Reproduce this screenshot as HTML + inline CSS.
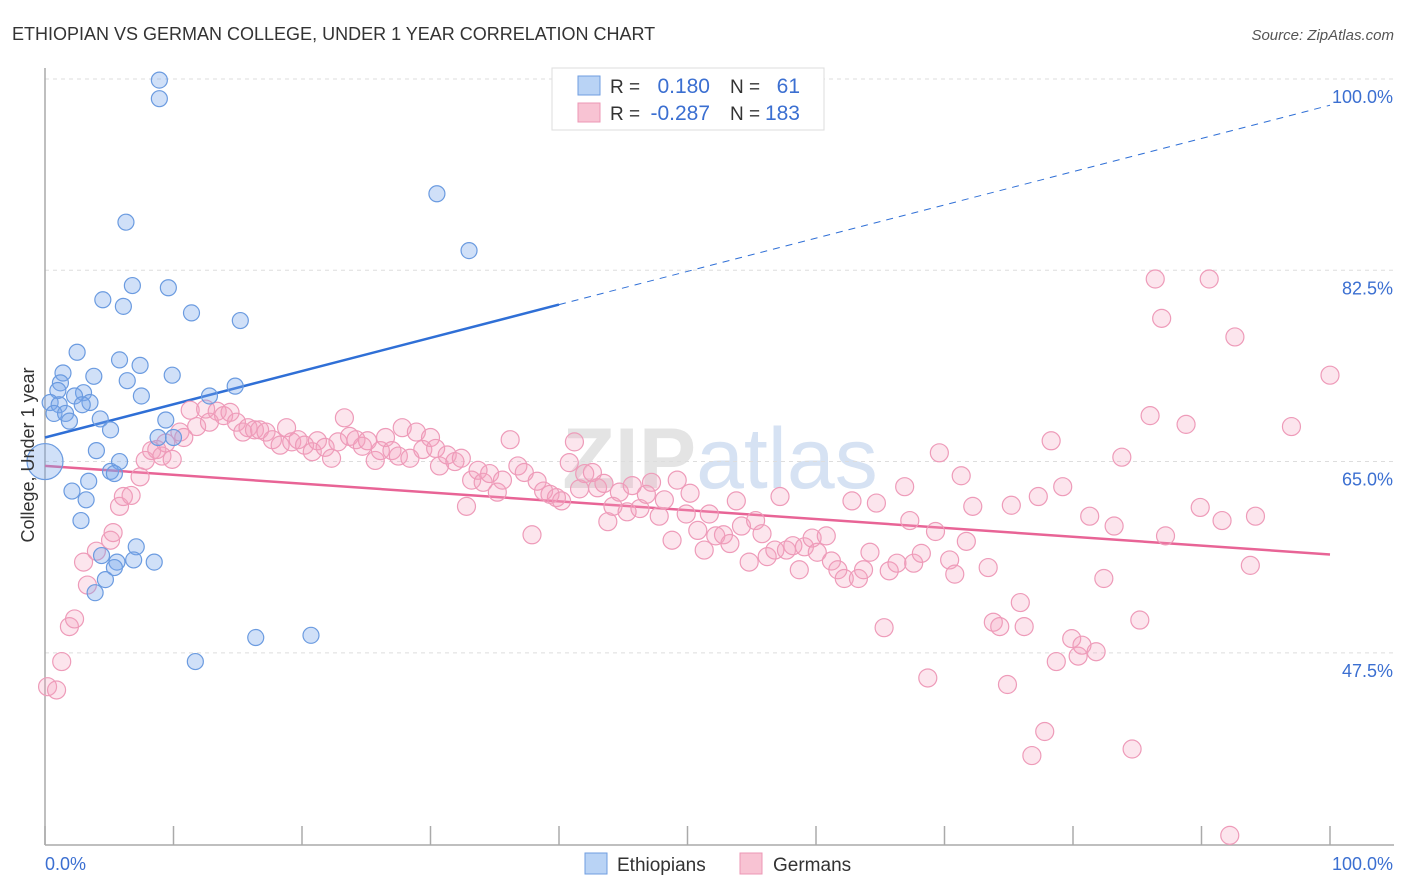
<!DOCTYPE html>
<html><head><meta charset="utf-8"><style>
body{margin:0;background:#fff;font-family:"Liberation Sans",sans-serif;}
svg{display:block}
</style></head><body>
<svg id="chart" width="1406" height="892">
<text x="12" y="40" font-size="18" fill="#333">ETHIOPIAN VS GERMAN COLLEGE, UNDER 1 YEAR CORRELATION CHART</text>
<text x="1394" y="40" font-size="15" fill="#555" font-style="italic" text-anchor="end">Source: ZipAtlas.com</text>
<text x="720" y="488" font-size="86" fill="#e4e4e4" text-anchor="middle" font-weight="bold">ZIP<tspan fill="#d6e2f3" font-weight="normal">atlas</tspan></text>
<g id="grid"></g>
<g id="axes"></g>
<g id="trend"></g>
<g id="pts"></g>
<text transform="translate(34,455) rotate(-90)" font-size="18" fill="#333" text-anchor="middle">College, Under 1 year</text>
<g>
<rect x="552" y="68" width="272" height="62" fill="#fff" stroke="#ddd"/>
<rect x="578" y="76" width="22" height="19" fill="#b9d3f5" stroke="#6f9ee0"/>
<rect x="578" y="103" width="22" height="19" fill="#f8c3d3" stroke="#ec97b4"/>
<text x="610" y="93" font-size="19" fill="#333">R =</text>
<text x="710" y="93" font-size="21" fill="#3b6fd1" text-anchor="end">0.180</text>
<text x="730" y="93" font-size="19" fill="#333">N =</text>
<text x="800" y="93" font-size="21" fill="#3b6fd1" text-anchor="end">61</text>
<text x="610" y="120" font-size="19" fill="#333">R =</text>
<text x="710" y="120" font-size="21" fill="#3b6fd1" text-anchor="end">-0.287</text>
<text x="730" y="120" font-size="19" fill="#333">N =</text>
<text x="800" y="120" font-size="21" fill="#3b6fd1" text-anchor="end">183</text>
</g>
<g>
<rect x="585" y="853" width="22" height="21" fill="#b9d3f5" stroke="#6f9ee0"/>
<text x="617" y="871" font-size="19" fill="#333">Ethiopians</text>
</g>
<g>
<rect x="740" y="853" width="22" height="21" fill="#f8c3d3" stroke="#ec97b4"/>
<text x="773" y="871" font-size="19" fill="#333">Germans</text>
</g>
</svg>
<script>
const yTicks=[100,82.5,65,47.5];
const yTickLabels=["100.0%","82.5%","65.0%","47.5%"];
const xTicks=[0,10,20,30,40,50,60,70,80,90,100];
const xEndLabels=["0.0%","100.0%"];
const ethX=[8.9,8.9,30.5,6.3,33.0,4.5,6.8,9.6,6.1,11.4,15.2,2.5,5.8,7.4,1.4,3.8,9.9,6.4,1.2,3.0,1.0,12.8,14.8,7.5,0.4,2.3,3.5,1.1,2.9,0.7,1.6,1.9,4.3,9.4,5.1,8.8,10.0,4.0,5.8,5.1,5.4,3.4,2.1,3.2,2.8,4.4,7.1,5.6,6.9,8.5,5.4,4.7,3.9,16.4,20.7,11.7];
const ethY=[99.9,98.2,89.5,86.9,84.3,79.8,81.1,80.9,79.2,78.6,77.9,75.0,74.3,73.8,73.1,72.8,72.9,72.4,72.2,71.3,71.5,71.0,71.9,71.0,70.4,71.0,70.4,70.2,70.2,69.4,69.4,68.7,68.9,68.8,67.9,67.2,67.2,66.0,65.0,64.1,63.9,63.2,62.3,61.5,59.6,56.4,57.2,55.8,56.0,55.8,55.3,54.2,53.0,48.9,49.1,46.7];
const gerX=[0.2,0.9,1.3,1.9,2.3,3.0,3.3,4.0,5.1,5.3,5.8,6.1,6.7,7.4,7.8,8.3,8.7,9.1,9.4,9.9,10.5,10.8,11.3,11.8,12.5,12.8,13.4,13.9,14.4,14.9,15.4,15.8,16.3,16.7,17.2,17.7,18.3,18.8,19.2,19.7,20.2,20.8,21.2,21.8,22.3,22.8,23.3,23.7,24.2,24.7,25.1,25.7,26.1,26.5,27.0,27.5,27.8,28.4,28.9,29.4,30.0,30.4,30.7,31.3,31.9,32.4,32.8,33.2,33.7,34.1,34.6,35.2,35.6,36.2,36.8,37.3,37.9,38.3,38.8,39.3,39.8,40.2,40.8,41.2,41.6,42.0,42.6,43.0,43.5,43.8,44.2,44.7,45.3,45.7,46.3,46.8,47.2,47.8,48.2,48.8,49.2,49.9,50.2,50.8,51.3,51.7,52.2,52.8,53.3,53.8,54.2,54.8,55.3,55.8,56.2,56.8,57.2,57.7,58.2,58.7,59.1,59.7,60.1,60.8,61.2,61.7,62.2,62.8,63.3,63.7,64.2,64.7,65.3,65.7,66.3,66.9,67.3,67.6,68.2,68.7,69.3,69.6,70.4,70.8,71.3,71.7,72.2,73.4,73.8,74.3,74.9,75.2,75.9,76.2,76.8,77.3,77.8,78.3,78.7,79.2,79.9,80.4,80.7,81.3,81.8,82.4,83.2,83.8,84.6,85.2,86.0,86.4,86.9,87.2,88.8,89.9,90.6,91.6,92.2,92.6,93.8,94.2,97.0,100.0];
const gerY=[44.4,44.1,46.7,49.9,50.6,55.8,53.7,56.8,57.8,58.5,60.9,61.8,61.9,63.6,65.1,66.0,66.1,65.5,66.7,65.2,67.7,67.2,69.7,68.2,69.8,68.6,69.6,69.2,69.5,68.6,67.7,68.1,67.9,67.9,67.7,67.0,66.5,68.1,66.8,67.0,66.5,65.9,66.9,66.3,65.3,66.8,69.0,67.3,67.0,66.4,66.9,65.1,66.0,67.2,66.0,65.5,68.1,65.3,67.7,66.1,67.2,66.2,64.6,65.6,65.0,65.3,60.9,63.3,64.2,63.1,63.9,62.2,63.3,67.0,64.6,64.0,58.3,63.2,62.3,62.0,61.7,61.4,64.9,66.8,62.5,63.9,64.0,62.6,63.0,59.5,60.9,62.2,60.4,62.8,60.7,62.0,63.1,60.0,61.5,57.8,63.3,60.2,62.1,58.7,56.9,60.2,58.2,58.3,57.5,61.4,59.1,55.8,59.6,58.4,56.3,56.9,61.8,56.9,57.3,55.1,57.2,58.0,56.7,58.2,55.9,55.1,54.3,61.4,54.3,55.1,56.7,61.2,49.8,55.0,55.7,62.7,59.6,55.7,56.6,45.2,58.6,65.8,56.0,54.7,63.7,57.7,60.9,55.3,50.3,49.9,44.6,61.0,52.1,49.9,38.1,61.8,40.3,66.9,46.7,62.7,48.8,47.2,48.2,60.0,47.6,54.3,59.1,65.4,38.7,50.5,69.2,81.7,78.1,58.2,68.4,60.8,81.7,59.6,30.8,76.4,55.5,60.0,68.2,72.9];
const ethTrend=[67.2,97.6];
const gerTrend=[64.6,56.5];
const NS="http://www.w3.org/2000/svg";
const X0=45,X1=1330,YT=79,K=10.93,YB=845;
const sx=v=>X0+(X1-X0)*v/100;
const sy=v=>YT+(100-v)*K;
function mk(tag,attrs,parent){const e=document.createElementNS(NS,tag);for(const k in attrs)e.setAttribute(k,attrs[k]);parent.appendChild(e);return e;}
const grid=document.getElementById('grid'),axes=document.getElementById('axes'),trend=document.getElementById('trend'),pts=document.getElementById('pts');
yTicks.forEach((t,i)=>{
 const l=mk('line',{x1:X0,x2:1394,y1:sy(t),y2:sy(t),stroke:'#ddd','stroke-dasharray':'4,4'},grid);
 
 
 const tx=mk('text',{x:1393,y:sy(t)+24,'font-size':18,fill:'#3b6fd1','text-anchor':'end'},grid);
 tx.textContent=yTickLabels[i];
 
 
});
const ax=mk('line',{x1:X0,x2:1394,y1:YB,y2:YB,stroke:'#aaa','stroke-width':1.5},axes);


const ay=mk('line',{x1:X0,x2:X0,y1:68,y2:YB,stroke:'#aaa','stroke-width':1.5},axes);


xTicks.forEach(t=>{
 const l=mk('line',{x1:sx(t),x2:sx(t),y1:826,y2:YB,stroke:'#aaa','stroke-width':1.5},axes);
 
 
});
const xl0=mk('text',{x:45,y:870,'font-size':18,fill:'#3b6fd1'},axes);
xl0.textContent=xEndLabels[0];


const xl1=mk('text',{x:1393,y:870,'font-size':18,fill:'#3b6fd1','text-anchor':'end'},axes);
xl1.textContent=xEndLabels[1];


// trends
const ethAt=v=>ethTrend[0]+(ethTrend[1]-ethTrend[0])*v/100;
const t1=mk('line',{x1:sx(0),y1:sy(ethAt(0)),x2:sx(40),y2:sy(ethAt(40)),stroke:'#2f6fd6','stroke-width':2.5},trend);


const t2=mk('line',{x1:sx(40),y1:sy(ethAt(40)),x2:sx(100),y2:sy(ethAt(100)),stroke:'#2f6fd6','stroke-width':1,'stroke-dasharray':'7,6'},trend);


const t3=mk('line',{x1:sx(0),y1:sy(gerTrend[0]),x2:sx(100),y2:sy(gerTrend[1]),stroke:'#e86496','stroke-width':2.5},trend);


gerX.forEach((v,i)=>{
 const c=mk('circle',{cx:sx(v),cy:sy(gerY[i]),r:9,fill:'rgba(243,160,190,0.28)',stroke:'#ee9bb9','stroke-width':1.2},pts);
 
 
});
ethX.forEach((v,i)=>{
 const c=mk('circle',{cx:sx(v),cy:sy(ethY[i]),r:8,fill:'rgba(120,165,235,0.35)',stroke:'#6b9be0','stroke-width':1.2},pts);
 
 
});
const big=mk('circle',{cx:sx(0),cy:sy(65),r:18,fill:'rgba(120,165,235,0.35)',stroke:'#6b9be0','stroke-width':1.2},pts);


</script>
</body></html>
